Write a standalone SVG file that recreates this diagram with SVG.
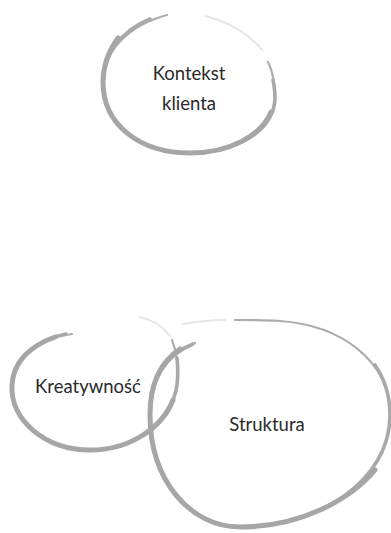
<svg xmlns="http://www.w3.org/2000/svg" width="391" height="533" viewBox="0 0 391 533">
<style>
.thin{fill:none;stroke:#adadad;stroke-width:2.2;stroke-linecap:round}
.mid{fill:none;stroke:#a9a9a9;stroke-width:3.6;stroke-linecap:round}
.thick{fill:none;stroke:#a6a6a6;stroke-width:5;stroke-linecap:round}
.faint{fill:none;stroke:#e6e6e6;stroke-width:2;stroke-linecap:round}
.lbl{font-family:Lato,"Open Sans","DejaVu Sans",sans-serif;font-size:18.5px;fill:#2a2a2a;text-anchor:middle}
</style>
<rect width="391" height="533" fill="#ffffff"/>
<g id="kontekst">
<path class="thin" d="M167,15 C130,25 103,50 103,82 C103,125 140,153 190,153 C240,153 275,128 275,97 C275,80 272,70 268,62"/>
<path class="mid" d="M150,19 C120,32 103,55 103,82 C103,125 140,153 190,153 C240,153 275,128 275,97 C275,90 274,85 273,80"/>
<path class="thick" d="M118,38 C108,52 103,66 103,82 C103,125 140,153 190,153 C230,153 262,135 271,112"/>
<path class="faint" d="M262,50 C250,35 230,22 205,16"/>
<text class="lbl" x="189" y="80">Kontekst</text>
<text class="lbl" x="189" y="110">klienta</text>
</g>
<g id="kreatywnosc">
<path class="thin" d="M72,334 C45,337 15,355 12,385 C10,420 45,450 90,450 C135,450 172,420 177,385 C179,365 176,350 172,340"/>
<path class="mid" d="M66,334 C40,339 15,357 12,385 C10,420 45,450 90,450 C135,450 172,420 177,385 C178,375 178,366 177,358"/>
<path class="thick" d="M55,337 C30,346 13,362 12,385 C10,420 45,450 90,450 C130,450 162,428 173,400"/>
<path class="faint" d="M170,336 C163,326 152,320 140,317"/>
<text class="lbl" x="88" y="393">Kreatywność</text>
</g>
<g id="struktura">
<path class="thin" d="M195,343 C165,355 150,380 150,415 C150,480 190,527 240,527 C320,527 390,480 390,415 C390,360 340,325 280,321 C265,320 248,320 235,320"/>
<path class="mid" d="M193,344 C165,355 150,380 150,415 C150,480 190,527 240,527 C320,527 390,480 390,415 C390,395 384,378 375,365"/>
<path class="thick" d="M180,349 C160,362 150,385 150,415 C150,480 190,527 240,527 C300,527 350,500 375,470"/>
<path class="faint" d="M225,320 C210,320 195,322 183,324"/>
<text class="lbl" x="267" y="431">Struktura</text>
</g>
</svg>
